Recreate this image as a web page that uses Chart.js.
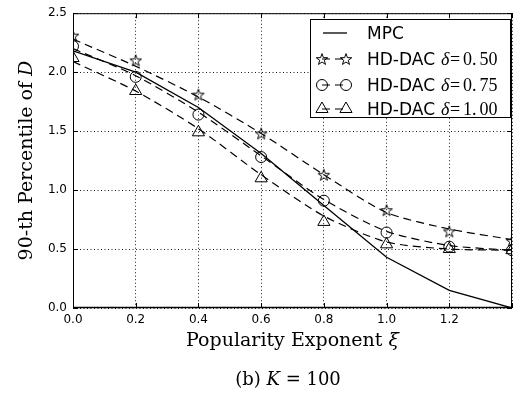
<!DOCTYPE html>
<html>
<head>
<meta charset="utf-8">
<script src="https://cdn.jsdelivr.net/npm/chart.js@4/dist/chart.umd.min.js"></script>
<style>
  html, body { margin: 0; padding: 0; background: #fff; }
</style>
</head>
<body>
<canvas id="chart" width="520" height="393"></canvas>
<script>
'use strict';

// ============================================================
// DATA
// ============================================================
const xi = [0.0, 0.2, 0.4, 0.6, 0.8, 1.0, 1.2, 1.4];
const mpc = [2.18, 2.00, 1.70, 1.31, 0.87, 0.43, 0.15, 0.00];

// measured points (markers)
const dac050 = [2.31, 2.10, 1.81, 1.48, 1.13, 0.83, 0.65, 0.57];
const dac075 = [2.22, 1.96, 1.64, 1.28, 0.91, 0.64, 0.52, 0.49];
const dac100 = [2.12, 1.84, 1.49, 1.10, 0.73, 0.54, 0.50, 0.49];

// dashed fitted curves, read at the same x positions
const fit050 = [2.28, 2.05, 1.79, 1.48, 1.13, 0.81, 0.67, 0.58];
const fit075 = [2.20, 1.97, 1.66, 1.29, 0.92, 0.65, 0.53, 0.49];
const fit100 = [2.09, 1.84, 1.52, 1.13, 0.78, 0.56, 0.50, 0.49];

const legendLabels = ['MPC', 'HD-DAC', 'HD-DAC', 'HD-DAC'];
const legendDeltas = [null, ['0.', '50'], ['0.', '75'], ['1.', '00']];

const xLabel = 'Popularity Exponent ';
const yLabel = '90-th Percentile of ';
const caption = '(b) ';

// ============================================================
// MARKERS
// ============================================================
function makeStar(size) {
  const c = document.createElement('canvas');
  c.width = size; c.height = size;
  const g = c.getContext('2d');
  const cx = size / 2, cy = size / 2, ro = size / 2 - 1, ri = ro * 0.4;
  g.beginPath();
  for (let i = 0; i < 10; i++) {
    const r = i % 2 === 0 ? ro : ri;
    const a = -Math.PI / 2 + i * Math.PI / 5;
    const px = cx + r * Math.cos(a), py = cy + r * Math.sin(a) + 0.6;
    if (i === 0) g.moveTo(px, py); else g.lineTo(px, py);
  }
  g.closePath();
  g.strokeStyle = '#000';
  g.lineWidth = 1;
  g.stroke();
  return c;
}
const starImg = makeStar(14);

const xy = arr => arr.map((v, i) => ({ x: xi[i], y: v }));
const DASH = [8, 5];

function fitSet(data) {
  return { data: xy(data), borderColor: '#000', borderWidth: 1.2, borderDash: DASH, pointRadius: 0, fill: false, tension: 0.25 };
}
function markSet(data, style, r) {
  return { data: xy(data), showLine: false, pointStyle: style, pointRadius: r, pointHoverRadius: r, pointBorderColor: '#000', pointBackgroundColor: 'rgba(0,0,0,0)', pointBorderWidth: 1 };
}

// ============================================================
// OVERLAY: frame, inward ticks, legend, titles
// ============================================================
function drawMarker(ctx, kind, x, y) {
  ctx.save();
  ctx.strokeStyle = '#000'; ctx.lineWidth = 1; ctx.setLineDash([]);
  if (kind === 'star') {
    ctx.drawImage(starImg, Math.round(x - starImg.width / 2), Math.round(y - starImg.height / 2));
  } else if (kind === 'circle') {
    ctx.beginPath(); ctx.arc(x, y, 5.5, 0, Math.PI * 2); ctx.stroke();
  } else if (kind === 'triangle') {
    const r = 7;
    ctx.beginPath();
    ctx.moveTo(x, y - r);
    ctx.lineTo(x + r * Math.sin(2 * Math.PI / 3), y - r * Math.cos(2 * Math.PI / 3));
    ctx.lineTo(x + r * Math.sin(4 * Math.PI / 3), y - r * Math.cos(4 * Math.PI / 3));
    ctx.closePath(); ctx.stroke();
  }
  ctx.restore();
}

const overlay = {
  id: 'overlay',
  afterDraw(chart) {
    const ctx = chart.ctx;
    const a = chart.chartArea;
    const xs = chart.scales.x, ys = chart.scales.y;
    ctx.save();

    // frame
    ctx.strokeStyle = '#000';
    ctx.lineWidth = 1;
    ctx.setLineDash([]);
    ctx.strokeRect(a.left + 0.5, a.top + 0.5, a.right - a.left - 1, a.bottom - a.top - 1);
    ctx.lineWidth = 1.6;
    ctx.beginPath(); ctx.moveTo(a.left, a.bottom - 0.5); ctx.lineTo(a.right, a.bottom - 0.5); ctx.stroke();
    ctx.lineWidth = 1;

    // inward ticks
    ctx.beginPath();
    xs.ticks.forEach(t => {
      const px = Math.round(xs.getPixelForValue(t.value)) + 0.5;
      ctx.moveTo(px, a.bottom); ctx.lineTo(px, a.bottom - 5);
      ctx.moveTo(px, a.top); ctx.lineTo(px, a.top + 5);
    });
    ys.ticks.forEach(t => {
      const py = Math.round(ys.getPixelForValue(t.value)) + 0.5;
      ctx.moveTo(a.left, py); ctx.lineTo(a.left + 5, py);
      ctx.moveTo(a.right, py); ctx.lineTo(a.right - 5, py);
    });
    ctx.stroke();

    // legend
    const bx = 310.5, by = 19.5, bw = 200, bh = 98;
    ctx.fillStyle = '#fff';
    ctx.fillRect(bx, by, bw, bh);
    ctx.strokeRect(bx, by, bw, bh);
    const rows = [33, 59, 85, 109];
    const kinds = [null, 'star', 'circle', 'triangle'];
    rows.forEach((ry, i) => {
      ctx.strokeStyle = '#000';
      if (i === 0) {
        ctx.lineWidth = 1.3; ctx.setLineDash([]);
        ctx.beginPath(); ctx.moveTo(323, ry); ctx.lineTo(347, ry); ctx.stroke();
      } else {
        ctx.lineWidth = 1.2; ctx.setLineDash(DASH);
        ctx.beginPath(); ctx.moveTo(322, ry); ctx.lineTo(346, ry); ctx.stroke();
        ctx.setLineDash([]);
        drawMarker(ctx, kinds[i], 322, ry);
        drawMarker(ctx, kinds[i], 346, ry);
      }
      ctx.fillStyle = '#000';
      ctx.textBaseline = 'alphabetic';
      ctx.textAlign = 'left';
      ctx.font = '17px "DejaVu Sans"';
      ctx.fillText(legendLabels[i], 367, ry + 6);
      const d = legendDeltas[i];
      if (d) {
        ctx.font = 'italic 18px "Liberation Serif"';
        ctx.fillText('\u03b4', 441, ry + 6);
        ctx.font = '18px "Liberation Serif"';
        ctx.fillText('=', 450, ry + 6);
        ctx.fillText(d[0], 463, ry + 6);
        ctx.fillText(d[1], 463 + ctx.measureText(d[0]).width + 3, ry + 6);
      }
    });

    // axis titles and caption
    ctx.fillStyle = '#000';
    ctx.textBaseline = 'middle';
    const serif = '19px "DejaVu Serif"', serifIt = 'italic 19px "DejaVu Serif"';
    function mixed(parts, cx, cy) {
      let w = 0;
      parts.forEach(p => { ctx.font = p[1]; w += ctx.measureText(p[0]).width; });
      let x0 = cx - w / 2;
      ctx.textAlign = 'left';
      parts.forEach(p => { ctx.font = p[1]; ctx.fillText(p[0], x0, cy); x0 += ctx.measureText(p[0]).width; });
    }
    const midX = (a.left + a.right) / 2;
    mixed([[xLabel, serif], ['\u03be', serifIt]], midX, 341);
    mixed([[caption, '18px "DejaVu Serif"'], ['K', 'italic 18px "DejaVu Serif"'], [' = 100', '18px "DejaVu Serif"']], 288, 380);
    ctx.save();
    ctx.translate(27, (a.top + a.bottom) / 2);
    ctx.rotate(-Math.PI / 2);
    mixed([[yLabel, serif], ['D', serifIt]], 0, 0);
    ctx.restore();

    ctx.restore();
  }
};

// ============================================================
// CHART
// ============================================================
const ctx = document.getElementById('chart').getContext('2d');
new Chart(ctx, {
  type: 'line',
  data: {
    datasets: [
      { data: xy(mpc), borderColor: '#000', borderWidth: 1.3, pointRadius: 0, fill: false, tension: 0 },
      fitSet(fit050), fitSet(fit075), fitSet(fit100),
      markSet(dac050, starImg, 7), markSet(dac075, 'circle', 5.5), markSet(dac100, 'triangle', 7)
    ]
  },
  options: {
    responsive: false,
    animation: false,
    events: [],
    layout: { padding: { left: 0, right: 1, top: 10, bottom: 0 } },
    plugins: { legend: { display: false }, tooltip: { enabled: false } },
    scales: {
      x: {
        type: 'linear', min: 0, max: 1.4,
        afterFit: s => { s.height = 85; },
        grid: { color: '#000', lineWidth: 0.9, drawTicks: false },
        border: { display: false, dash: [1, 2.5] },
        ticks: { stepSize: 0.2, autoSkip: false, maxRotation: 0, padding: 5, color: '#000',
          font: { family: 'DejaVu Sans', size: 12 },
          callback: v => v > 1.3 ? '' : v.toFixed(1) }
      },
      y: {
        type: 'linear', min: 0, max: 2.5,
        afterFit: s => { s.width = 73; },
        grid: { color: '#000', lineWidth: 0.9, drawTicks: false },
        border: { display: false, dash: [1, 2.5] },
        ticks: { stepSize: 0.5, padding: 6, color: '#000',
          font: { family: 'DejaVu Sans', size: 12 },
          callback: v => v.toFixed(1) }
      }
    }
  },
  plugins: [overlay]
});
</script>
</body>
</html>
